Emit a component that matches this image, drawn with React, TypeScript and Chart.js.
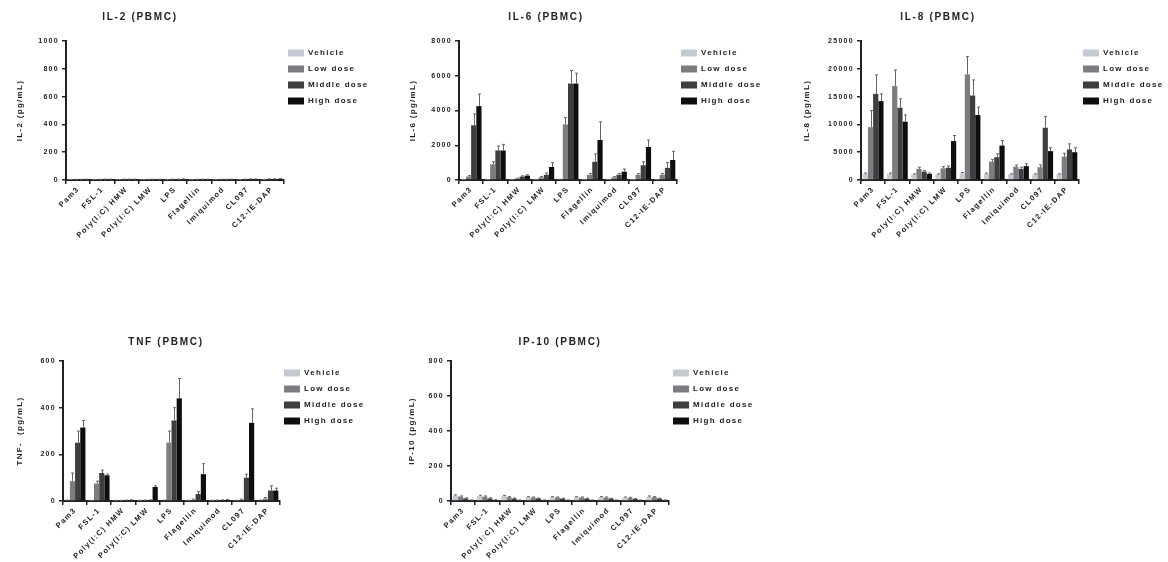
import React, { useEffect, useRef } from 'react';
import { Chart, registerables } from 'chart.js';

Chart.register(...registerables);

const FONT = '"Liberation Sans", Arial, Helvetica, sans-serif';

const categories = ['Pam3', 'FSL-1', 'Poly(I:C) HMW', 'Poly(I:C) LMW', 'LPS', 'Flagellin', 'Imiquimod', 'CL097', 'C12-IE-DAP'];
const seriesNames = ['Vehicle', 'Low dose', 'Middle dose', 'High dose'];
const seriesColors = ['#c4cad2', '#7b7d80', '#3d3e40', '#0e0e0e'];

// IL-2 (PBMC)
const il2Ticks = [0, 200, 400, 600, 800, 1000];
const il2Vehicle = [3, 3, 3, 3, 3, 3, 3, 3, 3];
const il2Low = [4, 4, 5, 4, 5, 4, 4, 5, 6];
const il2Middle = [4, 5, 5, 4, 5, 5, 4, 6, 7];
const il2High = [5, 5, 5, 4, 6, 5, 5, 6, 8];
const il2VehicleErr = [1, 1, 1, 1, 1, 1, 1, 1, 1];
const il2LowErr = [1, 1, 1, 1, 1, 1, 1, 1, 2];
const il2MiddleErr = [1, 1, 1, 1, 1, 1, 1, 2, 2];
const il2HighErr = [1, 1, 1, 1, 2, 1, 1, 2, 3];

// IL-6 (PBMC)
const il6Ticks = [0, 2000, 4000, 6000, 8000];
const il6Vehicle = [20, 20, 20, 20, 30, 20, 20, 20, 20];
const il6Low = [200, 900, 80, 150, 3200, 300, 150, 300, 300];
const il6Middle = [3150, 1700, 200, 300, 5550, 1050, 300, 850, 700];
const il6High = [4250, 1700, 250, 750, 5550, 2300, 480, 1900, 1150];
const il6VehicleErr = [5, 5, 5, 5, 10, 5, 5, 5, 5];
const il6LowErr = [50, 150, 20, 50, 400, 80, 40, 80, 80];
const il6MiddleErr = [650, 250, 40, 100, 750, 450, 80, 200, 300];
const il6HighErr = [700, 350, 50, 250, 600, 1050, 150, 400, 500];

// IL-8 (PBMC)
const il8Ticks = [0, 5000, 10000, 15000, 20000, 25000];
const il8Vehicle = [1100, 1100, 1000, 1000, 1200, 1100, 1000, 1000, 1000];
const il8Low = [9500, 16900, 2000, 2100, 19000, 3300, 2400, 2300, 4200];
const il8Middle = [15500, 13000, 1500, 2200, 15200, 4100, 2000, 9400, 5500];
const il8High = [14200, 10500, 1100, 7000, 11700, 6200, 2500, 5200, 5000];
const il8VehicleErr = [150, 150, 100, 100, 150, 150, 100, 100, 100];
const il8LowErr = [3000, 2900, 300, 300, 3200, 400, 300, 400, 600];
const il8MiddleErr = [3400, 1600, 200, 300, 2800, 600, 300, 2000, 1000];
const il8HighErr = [1300, 1200, 150, 1000, 1400, 900, 400, 600, 800];

// TNF (PBMC)
const tnfTicks = [0, 200, 400, 600];
const tnfVehicle = [3, 2, 2, 2, 3, 2, 2, 2, 3];
const tnfLow = [85, 75, 2, 3, 250, 5, 3, 5, 10];
const tnfMiddle = [250, 120, 3, 4, 345, 30, 4, 100, 45];
const tnfHigh = [315, 110, 4, 60, 440, 115, 5, 335, 45];
const tnfVehicleErr = [1, 1, 1, 1, 1, 1, 1, 1, 1];
const tnfLowErr = [35, 10, 1, 1, 50, 3, 1, 3, 5];
const tnfMiddleErr = [50, 12, 1, 1, 55, 10, 1, 15, 20];
const tnfHighErr = [30, 5, 1, 5, 85, 45, 1, 60, 10];

// IP-10 (PBMC)
const ip10Ticks = [0, 200, 400, 600, 800];
const ip10Vehicle = [30, 28, 28, 22, 22, 22, 22, 20, 25];
const ip10Low = [25, 25, 22, 20, 20, 20, 20, 18, 22];
const ip10Middle = [15, 15, 14, 15, 14, 14, 14, 12, 14];
const ip10High = [5, 6, 5, 5, 5, 5, 5, 5, 5];
const ip10VehicleErr = [5, 5, 4, 3, 3, 3, 3, 3, 4];
const ip10LowErr = [4, 4, 3, 3, 3, 3, 3, 3, 3];
const ip10MiddleErr = [3, 3, 3, 2, 2, 2, 2, 2, 2];
const ip10HighErr = [1, 1, 1, 1, 1, 1, 1, 1, 1];

const panels = [
  {
    title: 'IL-2 (PBMC)', yTitle: 'IL-2 (pg/mL)', ticks: il2Ticks,
    values: [il2Vehicle, il2Low, il2Middle, il2High],
    errors: [il2VehicleErr, il2LowErr, il2MiddleErr, il2HighErr],
    left: 0, top: 0, yWidth: 66, plotWidth: 218, legendWidth: 90, height: 290, xHeight: 110,
    titleX: 140, titleY: 17, yTitlePad: 15,
  },
  {
    title: 'IL-6 (PBMC)', yTitle: 'IL-6 (pg/mL)', ticks: il6Ticks,
    values: [il6Vehicle, il6Low, il6Middle, il6High],
    errors: [il6VehicleErr, il6LowErr, il6MiddleErr, il6HighErr],
    left: 393, top: 0, yWidth: 66, plotWidth: 218, legendWidth: 90, height: 290, xHeight: 110,
    titleX: 153, titleY: 17, yTitlePad: 15,
  },
  {
    title: 'IL-8 (PBMC)', yTitle: 'IL-8 (pg/mL)', ticks: il8Ticks,
    values: [il8Vehicle, il8Low, il8Middle, il8High],
    errors: [il8VehicleErr, il8LowErr, il8MiddleErr, il8HighErr],
    left: 795, top: 0, yWidth: 66, plotWidth: 218, legendWidth: 85, height: 290, xHeight: 110,
    titleX: 143, titleY: 17, yTitlePad: 7,
  },
  {
    title: 'TNF (PBMC)', yTitle: 'TNF-  (pg/mL)', ticks: tnfTicks,
    values: [tnfVehicle, tnfLow, tnfMiddle, tnfHigh],
    errors: [tnfVehicleErr, tnfLowErr, tnfMiddleErr, tnfHighErr],
    left: 0, top: 320, yWidth: 63, plotWidth: 217, legendWidth: 90, height: 281, xHeight: 100,
    titleX: 166, titleY: 22, yTitlePad: 15,
  },
  {
    title: 'IP-10 (PBMC)', yTitle: 'IP-10 (pg/mL)', ticks: ip10Ticks,
    values: [ip10Vehicle, ip10Low, ip10Middle, ip10High],
    errors: [ip10VehicleErr, ip10LowErr, ip10MiddleErr, ip10HighErr],
    left: 390, top: 320, yWidth: 61, plotWidth: 218, legendWidth: 90, height: 281, xHeight: 100,
    titleX: 170, titleY: 22, yTitlePad: 17,
  },
];

const spacingPlugin = {
  id: 'letterSpacing',
  beforeUpdate(chart: any) { chart.ctx.letterSpacing = '1.3px'; },
  beforeLayout(chart: any) { chart.ctx.letterSpacing = '1.3px'; },
  beforeDraw(chart: any) { chart.ctx.letterSpacing = '1.3px'; },
};

const legendShiftPlugin = {
  id: 'legendShift',
  afterLayout(chart: any, _args: any, opts: any) {
    if (chart.legend) chart.legend.left += opts.dx || 0;
  },
};

const errorBarPlugin = {
  id: 'errorBars',
  afterDatasetsDraw(chart: any) {
    const ctx = chart.ctx;
    const yScale = chart.scales.y;
    ctx.save();
    ctx.strokeStyle = '#666';
    ctx.lineWidth = 1;
    chart.data.datasets.forEach((ds: any, i: number) => {
      const meta = chart.getDatasetMeta(i);
      meta.data.forEach((bar: any, j: number) => {
        const v = ds.data[j];
        const e = ds.errors ? ds.errors[j] : 0;
        if (!e) return;
        const yTop = yScale.getPixelForValue(v + e);
        const x = Math.round(bar.x) + 0.5;
        ctx.beginPath();
        ctx.moveTo(x, bar.y);
        ctx.lineTo(x, yTop);
        ctx.moveTo(x - 1.5, yTop);
        ctx.lineTo(x + 1.5, yTop);
        ctx.stroke();
      });
    });
    ctx.restore();
  },
};

const titlePlugin = {
  id: 'panelTitle',
  afterDraw(chart: any, _args: any, opts: any) {
    const ctx = chart.ctx;
    ctx.save();
    ctx.font = `bold 10px ${FONT}`;
    ctx.letterSpacing = '1.7px';
    ctx.fillStyle = '#222';
    ctx.textAlign = 'center';
    ctx.textBaseline = 'middle';
    ctx.fillText(opts.text, opts.x, opts.y);
    ctx.restore();
  },
};

function Panel({ p }: { p: any }) {
  const ref = useRef<HTMLCanvasElement | null>(null);
  const width = p.yWidth + p.plotWidth + p.legendWidth;
  useEffect(() => {
    if (!ref.current) return;
    const axisColor = '#222';
    const chart = new Chart(ref.current, {
      type: 'bar',
      data: {
        labels: categories,
        datasets: seriesNames.map((name, i) => ({
          label: name,
          data: p.values[i],
          errors: p.errors[i],
          backgroundColor: seriesColors[i],
          borderWidth: 0,
          categoryPercentage: 0.86,
          barPercentage: 1,
        })) as any,
      },
      options: {
        responsive: false,
        animation: false,
        layout: { padding: { top: 41, left: 0, right: 0, bottom: 0 } },
        plugins: {
          legend: {
            position: 'right',
            align: 'start',
            maxWidth: p.legendWidth,
            labels: {
              boxWidth: 16,
              boxHeight: 7,
              padding: 8,
              color: '#222',
              font: { size: 8, weight: 'bold', family: FONT },
            },
          },
          tooltip: { enabled: false },
          panelTitle: { text: p.title, x: p.titleX, y: p.titleY },
          legendShift: { dx: -4 },
        } as any,
        scales: {
          x: {
            grid: { display: true, drawOnChartArea: false, drawTicks: true, tickLength: 4, color: axisColor, lineWidth: 1.5 },
            border: { display: true, color: axisColor, width: 2 },
            ticks: {
              autoSkip: false, maxRotation: 45, minRotation: 45, padding: 1, color: '#222',
              font: { size: 7.5, weight: 'bold', family: FONT },
            },
            afterFit: (s: any) => { s.height = p.xHeight; },
          },
          y: {
            min: 0,
            max: p.ticks[p.ticks.length - 1],
            ticks: {
              stepSize: p.ticks[1] - p.ticks[0],
              color: '#222',
              padding: 3,
              font: { size: 7, weight: 'bold', family: FONT },
              callback: (v: any) => String(v),
            },
            grid: { display: true, drawOnChartArea: false, drawTicks: true, tickLength: 4, color: axisColor, lineWidth: 1.5 },
            border: { display: true, color: axisColor, width: 2 },
            title: {
              display: true, text: p.yTitle, color: '#222',
              font: { size: 8, weight: 'bold', family: FONT },
              padding: { top: p.yTitlePad, bottom: 0 },
            },
            afterFit: (s: any) => { s.width = p.yWidth; },
          },
        },
      } as any,
      plugins: [spacingPlugin, errorBarPlugin, titlePlugin, legendShiftPlugin] as any,
    });
    return () => chart.destroy();
  }, []);
  return (
    <canvas
      ref={ref}
      width={width}
      height={p.height}
      style={{ position: 'absolute', left: p.left, top: p.top, width, height: p.height }}
    />
  );
}

export default function App() {
  return (
    <div style={{ position: 'absolute', left: 0, top: 0, width: 1168, height: 562, overflow: 'hidden', background: '#fff' }}>
      {panels.map((p) => (
        <Panel key={p.title} p={p} />
      ))}
    </div>
  );
}
